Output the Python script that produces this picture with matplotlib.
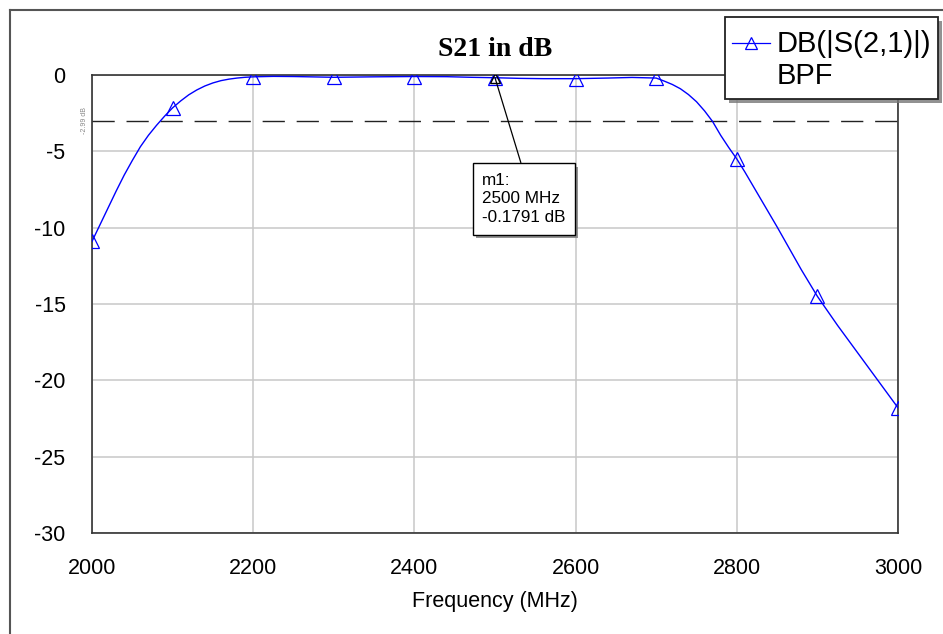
import numpy as np
import matplotlib
matplotlib.use("Agg")
import matplotlib.pyplot as plt
from matplotlib.lines import Line2D
from matplotlib.patches import Rectangle
import matplotlib.patheffects as pe

plt.rcParams['font.family'] = ['Liberation Sans', 'DejaVu Sans']
plt.rcParams['axes.unicode_minus'] = False

# S21 of the band-pass filter, MHz / dB
freq = [2000, 2010, 2020, 2030, 2040, 2050, 2060, 2070, 2080, 2090,
        2100, 2110, 2120, 2130, 2140, 2150, 2160, 2170, 2180, 2190,
        2200, 2225, 2250, 2300, 2350, 2400, 2440, 2470, 2500, 2530,
        2560, 2600, 2640, 2670, 2700, 2710, 2720, 2730, 2740, 2750,
        2760, 2770, 2780, 2790, 2800, 2810, 2820, 2835, 2850, 2865,
        2880, 2900, 2925, 2950, 2975, 3000]
s21_db = [-10.9, -9.8, -8.7, -7.6, -6.55, -5.6, -4.7, -3.95, -3.3, -2.7,
          -2.15, -1.7, -1.3, -0.98, -0.72, -0.52, -0.37, -0.27, -0.2, -0.15,
          -0.12, -0.09, -0.10, -0.15, -0.12, -0.10, -0.11, -0.15, -0.1791, -0.22,
          -0.24, -0.24, -0.20, -0.16, -0.2, -0.4, -0.62, -0.9, -1.28, -1.75,
          -2.35, -3.05, -3.95, -4.75, -5.5, -6.35, -7.25, -8.6, -9.95, -11.35,
          -12.75, -14.5, -16.4, -18.2, -20.0, -21.8]

xticks = [2000, 2200, 2400, 2600, 2800, 3000]
yticks = [0, -5, -10, -15, -20, -25, -30]
line_3db = -2.99
m1_freq, m1_val = 2500, -0.1791

W, H = 943, 634
fig = plt.figure(figsize=(W / 100, H / 100), dpi=100)
ax = fig.add_axes([92 / W, 1 - 533 / H, (898 - 92) / W, (533 - 75) / H])

marks = [i for i, f in enumerate(freq) if f % 100 == 0]
ax.plot(freq, s21_db, color='#0000ff', lw=1.0, marker='^', ms=10.5,
        mfc='none', mec='#0000ff', mew=0.9, markevery=marks, zorder=4)

ax.axhline(line_3db, color='#222222', lw=1.0, dashes=(16, 8.5), zorder=3)

ax.set_xlim(2000, 3000)
ax.set_ylim(-30, 0)
ax.set_xticks(xticks)
ax.set_yticks(yticks)
ax.tick_params(length=0, labelsize=15.5)
ax.tick_params(axis='x', pad=18)
ax.tick_params(axis='y', pad=19)
ax.grid(True, color='#c8c8c8', lw=1.1)
ax.set_axisbelow(True)
for s in ax.spines.values():
    s.set_color('#333333')
    s.set_linewidth(1.2)

# marker m1 and its readout box
ax.plot([m1_freq], [m1_val], marker='^', ms=7, mfc='none', mec='black', mew=1.0, zorder=5)
ann = ax.annotate("m1:\n%d MHz\n%.4f dB" % (m1_freq, m1_val), xy=(m1_freq, m1_val),
                  xytext=(2484, -6.39), ha='left', va='top', fontsize=12.3, linespacing=1.32,
                  bbox=dict(boxstyle='square,pad=0.55', fc='white', ec='black', lw=1.0),
                  arrowprops=dict(arrowstyle='-', color='black', lw=0.9, relpos=(0.5, 1.0),
                                  shrinkA=0, shrinkB=0), zorder=6)
ann.get_bbox_patch().set_path_effects([
    pe.SimplePatchShadow(offset=(2.5, -2.5), shadow_rgbFace='#777777', alpha=0.8), pe.Normal()])

fig.text(84 / W, 1 - 120 / H, "%.2f dB" % line_3db, rotation=90, fontsize=5,
         color='#888888', ha='center', va='center')

fig.text(495 / W, 1 - 50 / H, "S21 in dB", family='Liberation Serif', weight='bold',
         fontsize=20, ha='center', va='center')
fig.text(495 / W, 1 - 601 / H, "Frequency (MHz)", fontsize=15.5, ha='center', va='center')

# legend box drawn in figure pixels
leg = Rectangle((725 / W, 1 - 99 / H), 213 / W, 82 / H, transform=fig.transFigure,
                fc='white', ec='#222222', lw=1.3, zorder=10)
leg.set_path_effects([pe.SimplePatchShadow(offset=(3, -3), shadow_rgbFace='#777777', alpha=0.8),
                      pe.Normal()])
fig.add_artist(leg)
fig.add_artist(Line2D([732 / W, 770 / W], [1 - 43 / H, 1 - 43 / H], transform=fig.transFigure,
                      color='#0000ff', lw=0.9, zorder=11))
fig.add_artist(Line2D([751 / W], [1 - 43 / H], transform=fig.transFigure, marker='^', ms=8,
                      mfc='none', mec='#0000ff', mew=0.9, zorder=11))
fig.text(777 / W, 1 - 44 / H, "DB(|S(2,1)|)", fontsize=21, ha='left', va='center', zorder=12)
fig.text(777 / W, 1 - 76 / H, "BPF", fontsize=21, ha='left', va='center', zorder=12)

# outer frame
fig.add_artist(Line2D([10 / W, 1.0], [1 - 10 / H, 1 - 10 / H], transform=fig.transFigure,
                      color='#555555', lw=1.5))
fig.add_artist(Line2D([10 / W, 10 / W], [0.0, 1 - 10 / H], transform=fig.transFigure,
                      color='#555555', lw=1.5))

fig.savefig("out.png", dpi=100)
